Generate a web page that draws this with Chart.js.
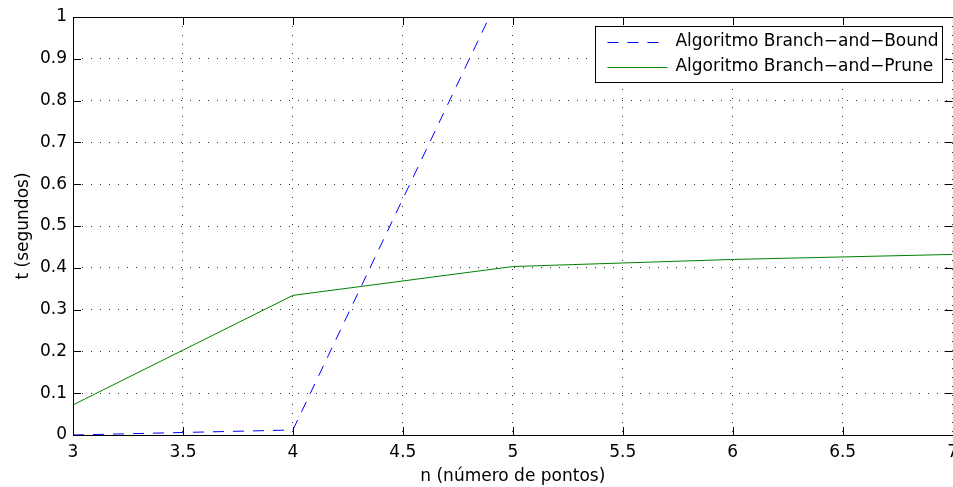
<!DOCTYPE html>
<html lang="pt">
<head>
    <meta charset="UTF-8">
    <title>Branch-and-Bound vs Branch-and-Prune</title>
    <script src="https://cdn.jsdelivr.net/npm/chart.js@4"></script>
    <style>
        html, body { margin: 0; padding: 0; background: #fff; }
        #wrap { width: 953px; height: 487px; overflow: hidden; }
    </style>
</head>
<body>
    <div id="wrap"><canvas id="myChart" width="965" height="487"></canvas></div>

    <script>
        // data
        const nPoints = [3, 4, 5, 6, 7];
        const bbTimes = [0.0, 0.012, 1.118];          // goes off the top after n=4
        const bpTimes = [0.072, 0.334, 0.403, 0.420, 0.432];
        const xTicks = [3, 3.5, 4, 4.5, 5, 5.5, 6, 6.5, 7];
        const yTicks = [0, 0.1, 0.2, 0.3, 0.4, 0.5, 0.6, 0.7, 0.8, 0.9, 1];

        const FONT = 'DejaVu Sans';
        Chart.defaults.font.family = FONT;
        Chart.defaults.font.size = 17;
        Chart.defaults.color = '#000';

        const toPoints = (ys) => ys.map((y, i) => ({ x: nPoints[i], y: y }));

        // MATLAB style box, inward ticks on all sides, and legend inside the axes
        const matlabAxes = {
            id: 'matlabAxes',
            afterDraw(chart) {
                const { ctx, chartArea: a, scales } = chart;
                const tl = 8;
                ctx.save();
                ctx.strokeStyle = '#000';
                ctx.lineWidth = 1;
                ctx.beginPath();
                xTicks.forEach(v => {
                    const px = Math.round(scales.x.getPixelForValue(v)) + 0.5;
                    ctx.moveTo(px, a.bottom); ctx.lineTo(px, a.bottom - tl);
                    ctx.moveTo(px, a.top); ctx.lineTo(px, a.top + tl);
                });
                yTicks.forEach(v => {
                    const py = Math.round(scales.y.getPixelForValue(v)) + 0.5;
                    ctx.moveTo(a.left, py); ctx.lineTo(a.left + tl, py);
                    ctx.moveTo(a.right, py); ctx.lineTo(a.right - tl, py);
                });
                ctx.stroke();
                ctx.strokeRect(Math.round(a.left) + 0.5, Math.round(a.top) + 0.5,
                    Math.round(a.right - a.left), Math.round(a.bottom - a.top));

                // legend
                ctx.font = '17px "' + FONT + '"';
                const sets = chart.data.datasets;
                const textW = Math.max(...sets.map(d => ctx.measureText(d.label).width));
                const boxR = a.right - 10, boxT = a.top + 9;
                const boxW = 80 + textW + 4, boxH = 56;
                const boxL = boxR - boxW;
                ctx.fillStyle = '#fff';
                ctx.fillRect(boxL, boxT, boxW, boxH);
                ctx.strokeRect(Math.round(boxL) + 0.5, Math.round(boxT) + 0.5, Math.round(boxW), boxH);
                sets.forEach((d, i) => {
                    const y = boxT + 15.5 + i * 25;
                    ctx.save();
                    ctx.strokeStyle = d.borderColor;
                    ctx.lineWidth = d.borderWidth;
                    ctx.setLineDash(d.borderDash || []);
                    ctx.beginPath();
                    ctx.moveTo(boxL + 12, Math.round(y) + 0.5);
                    ctx.lineTo(boxL + 72, Math.round(y) + 0.5);
                    ctx.stroke();
                    ctx.restore();
                    ctx.fillStyle = '#000';
                    ctx.textBaseline = 'middle';
                    ctx.textAlign = 'left';
                    ctx.fillText(d.label, boxL + 80, y);
                });
                ctx.restore();
            }
        };

        const ctx = document.getElementById('myChart').getContext('2d');
        const config = {
            type: 'line',
            data: {
                datasets: [{
                    label: 'Algoritmo Branch\u2212and\u2212Bound',
                    data: toPoints(bbTimes),
                    borderColor: 'rgb(0, 0, 255)',
                    borderWidth: 1,
                    borderDash: [11, 9],
                    pointRadius: 0,
                    fill: false,
                    tension: 0
                }, {
                    label: 'Algoritmo Branch\u2212and\u2212Prune',
                    data: toPoints(bpTimes),
                    borderColor: 'rgb(0, 128, 0)',
                    borderWidth: 1,
                    pointRadius: 0,
                    fill: false,
                    tension: 0
                }]
            },
            options: {
                responsive: false,
                animation: false,
                layout: { padding: { top: 17, left: 0, right: 0, bottom: 0 } },
                plugins: {
                    legend: { display: false },
                    tooltip: { enabled: false }
                },
                scales: {
                    x: {
                        type: 'linear',
                        min: 3,
                        max: 7,
                        afterBuildTicks: (s) => { s.ticks = xTicks.map(v => ({ value: v })); },
                        afterFit: (s) => { s.height = 52; },
                        ticks: {
                            padding: 7,
                            maxRotation: 0,
                            callback: (v) => String(v)
                        },
                        grid: { color: '#333', lineWidth: 1, drawTicks: false },
                        border: { display: false, dash: [1, 8] },
                        title: {
                            display: true,
                            text: 'n (número de pontos)',
                            padding: { top: 0, bottom: 0 }
                        }
                    },
                    y: {
                        type: 'linear',
                        min: 0,
                        max: 1,
                        afterBuildTicks: (s) => { s.ticks = yTicks.map(v => ({ value: v })); },
                        afterFit: (s) => { s.width = 73; },
                        ticks: {
                            padding: 6,
                            callback: (v) => String(Number(v.toFixed(1)))
                        },
                        grid: { color: '#333', lineWidth: 1, drawTicks: false },
                        border: { display: false, dash: [1, 8] },
                        title: {
                            display: true,
                            text: 't (segundos)',
                            padding: { top: 13, bottom: 0 }
                        }
                    }
                }
            },
            plugins: [matlabAxes]
        };

        const myChart = new Chart(ctx, config);
    </script>
</body>
</html>
